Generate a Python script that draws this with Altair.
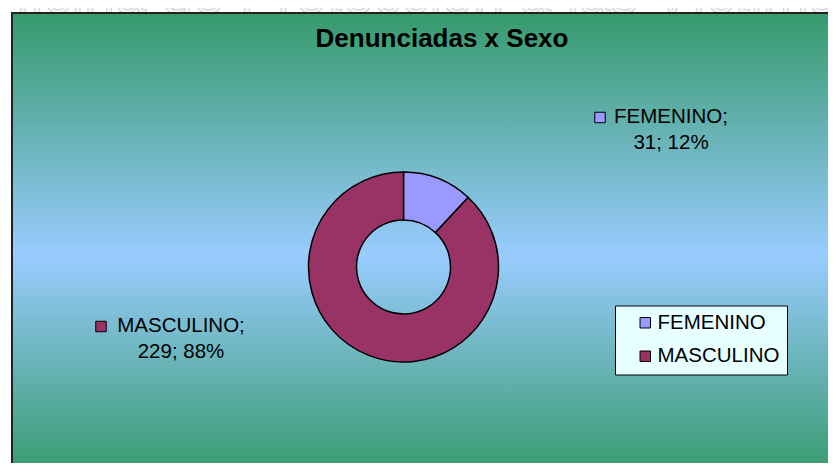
import altair as alt
import pandas as pd

# ---- data ----
categories = ["FEMENINO", "MASCULINO"]
counts = [31, 229]
percents = [12, 88]
colors = ["#9999ff", "#993366"]
title_text = "Denunciadas x Sexo"
watermark_text = "Oficina de Protección a las Víctimas"

# ---- layout constants ----
W, H = 820, 455
FONT = "Liberation Sans"
CX, CY = 395.5, 259
label_pos = {"FEMENINO": (663, 115), "MASCULINO": (173, 324)}
square_pos = {"FEMENINO": (592, 109.5), "MASCULINO": (93, 318.5)}

df = pd.DataFrame({"sexo": categories, "n": counts, "pct": percents,
                   "orden": list(range(len(categories)))})

lab = df.copy()
lab["line1"] = lab["sexo"] + ";"
lab["line2"] = lab["n"].astype(str) + "; " + lab["pct"].astype(str) + "%"
lab["lx"] = [label_pos[c][0] for c in categories]
lab["ly"] = [label_pos[c][1] for c in categories]
lab["sx"] = [square_pos[c][0] for c in categories]
lab["sy"] = [square_pos[c][1] for c in categories]

color_scale = alt.Scale(domain=categories, range=colors)

one = alt.Data(values=[{}])

watermark = alt.Chart(one).mark_text(
    text=watermark_text, font=FONT, fontSize=56, align="left", baseline="alphabetic",
    fill="#f3f3f3", stroke="#d2d2d2", strokeWidth=1
).encode(x=alt.value(-36), y=alt.value(5))

bg = alt.Chart(one).mark_rect(
    fill=alt.Gradient(
        gradient="linear", x1=0, x2=0, y1=0, y2=1,
        stops=[alt.GradientStop(offset=0, color="#369a6c"),
               alt.GradientStop(offset=0.52, color="#99ccff"),
               alt.GradientStop(offset=1, color="#369a6c")]),
    stroke="#222222", strokeWidth=2
).encode(x=alt.value(4), x2=alt.value(W + 10), y=alt.value(5), y2=alt.value(H + 15))

NBSP = "\u00a0"
arc = alt.Chart(df).mark_arc(
    outerRadius=95, innerRadius=47, stroke="black", strokeWidth=1.5
).encode(
    theta=alt.Theta("n:Q", stack=True),
    order=alt.Order("orden:Q"),
    color=alt.Color("sexo:N", scale=color_scale, legend=alt.Legend(
        title=None, orient="none", legendX=607, legendY=297.5, direction="vertical",
        fillColor="#e8ffff", strokeColor="black", padding=7,
        symbolType="square", symbolSize=110, symbolStrokeColor="black",
        symbolStrokeWidth=1, symbolOffset=13, labelOffset=2,
        labelExpr="datum.label + '" + NBSP * 2 + "'",
        labelFont=FONT, labelFontSize=20.5, labelColor="black", rowPadding=12.5)),
    x=alt.value(CX), y=alt.value(CY),
)

squares = alt.Chart(lab).mark_square(size=110, stroke="black", strokeWidth=1, opacity=1).encode(
    x=alt.X("sx:Q", scale=None, axis=None),
    y=alt.Y("sy:Q", scale=None, axis=None),
    color=alt.Color("sexo:N", scale=color_scale, legend=None),
)

t1 = alt.Chart(lab).mark_text(font=FONT, fontSize=20.5, align="center", baseline="alphabetic",
                              color="black").encode(
    x=alt.X("lx:Q", scale=None, axis=None),
    y=alt.Y("ly:Q", scale=None, axis=None),
    text="line1:N",
)
t2 = alt.Chart(lab).mark_text(font=FONT, fontSize=20.5, align="center", baseline="alphabetic",
                              color="black", dy=26).encode(
    x=alt.X("lx:Q", scale=None, axis=None),
    y=alt.Y("ly:Q", scale=None, axis=None),
    text="line2:N",
)

title = alt.Chart(one).mark_text(
    text=title_text, font=FONT, fontSize=26, fontWeight="bold", align="center",
    baseline="alphabetic", color="black"
).encode(x=alt.value(434), y=alt.value(39))

chart = alt.layer(watermark, bg, arc, squares, t1, t2, title).properties(
    width=W, height=H, padding=0, autosize="none"
).configure_view(strokeWidth=0)

chart.save("out.html", embed_options={"renderer": "svg", "actions": False})
